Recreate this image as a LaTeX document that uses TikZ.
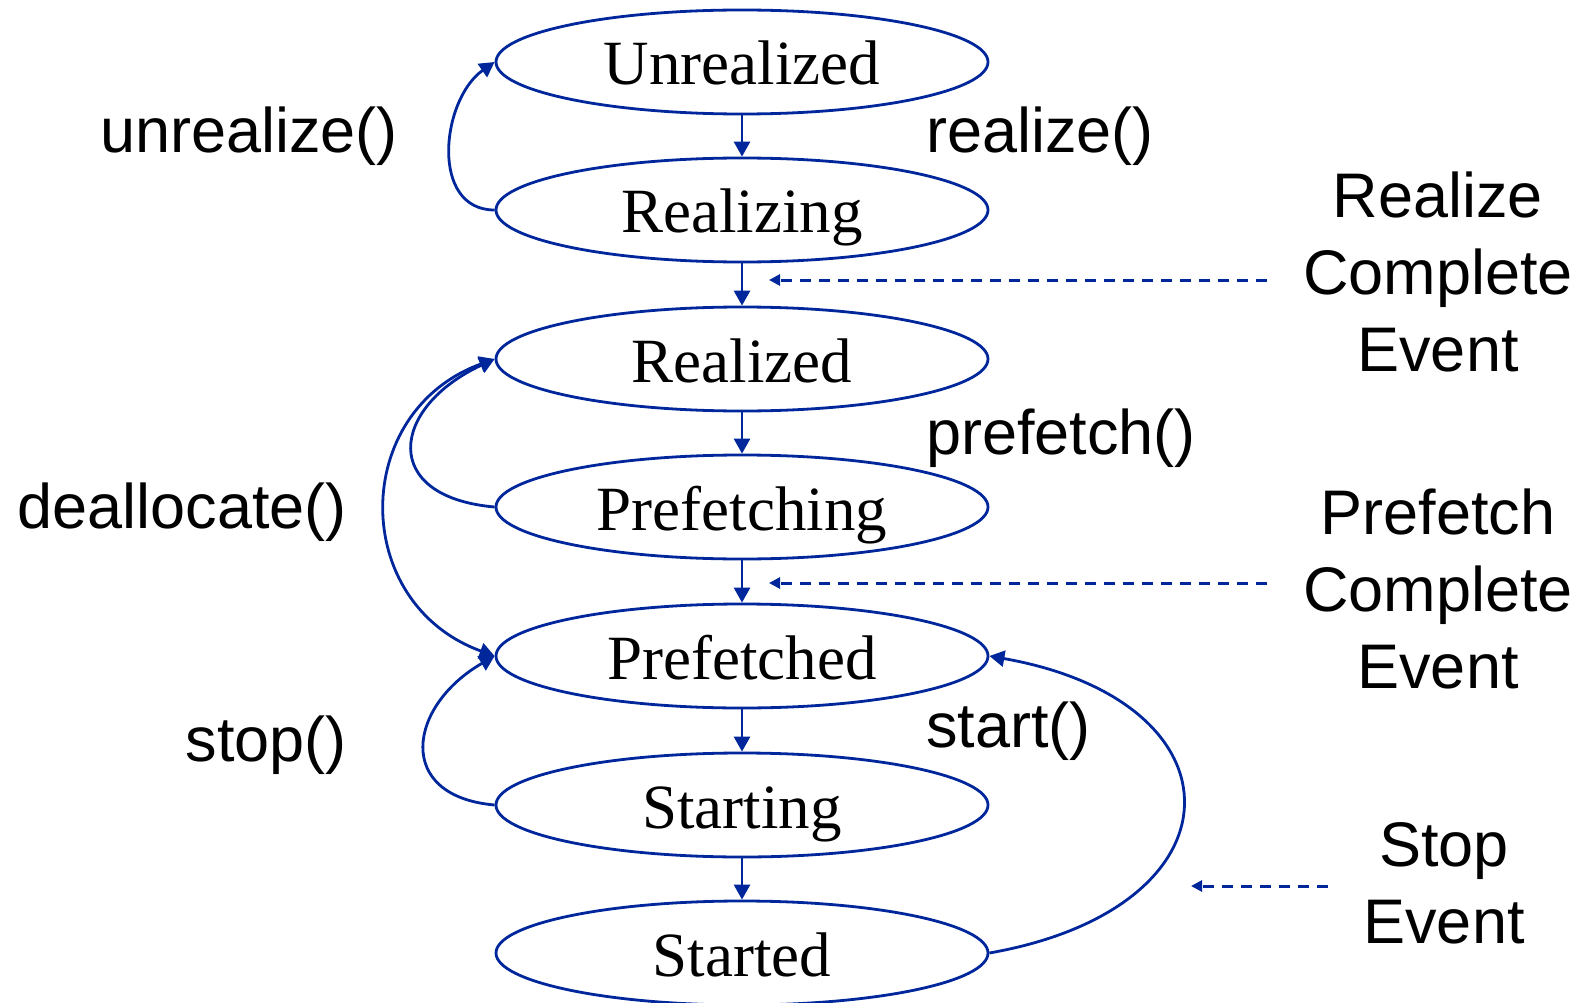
\documentclass[tikz,border=0pt]{standalone}
\usepackage{fontspec}
\setmainfont{Liberation Serif}
\setsansfont{Liberation Sans}
\usetikzlibrary{arrows.meta, shapes.geometric}
\definecolor{stateblue}{RGB}{0,38,155}

\tikzset{
  phase/.style={ellipse, draw=stateblue, line width=2.8pt, minimum width=492pt,
    minimum height=104pt, inner sep=0pt, text height=46pt, text depth=0pt,
    font=\fontsize{63}{70}\selectfont},
  call/.style={inner sep=0pt, font=\sffamily\fontsize{63}{77}\selectfont},
  event/.style={call, align=center, anchor=north},
  flow/.style={->, stateblue, line width=2.8pt},
  signal/.style={-{Triangle[length=11pt,width=11pt]}, stateblue, line width=3pt,
    dash pattern=on 11pt off 8pt}
}

\begin{document}
\begin{tikzpicture}[x=1pt, y=1pt, >={Triangle[length=15pt,width=16pt]}]
    \useasboundingbox (0,0) rectangle (1587,-1003);
    \node[phase] (unrealized) at (742,-62) {Unrealized};
    \node[phase] (realizing) at (742,-210) {Realizing};
    \node[phase] (realized) at (742,-359) {Realized};
    \node[phase] (prefetching) at (742,-507) {Prefetching};
    \node[phase] (prefetched) at (742,-656) {Prefetched};
    \node[phase] (starting) at (742,-805) {Starting};
    \node[phase] (started) at (742,-953) {Started};

    \draw[flow] (unrealized) -- (realizing);
    \draw[flow] (realizing) -- (realized);
    \draw[flow] (realized) -- (prefetching);
    \draw[flow] (prefetching) -- (prefetched);
    \draw[flow] (prefetched) -- (starting);
    \draw[flow] (starting) -- (started);

    \draw[flow] (realizing.west) to[out=180, in=215, looseness=1.13] (unrealized.west);
    \draw[flow] (prefetching.west) to[out=175, in=205, looseness=2] (realized.west);
    \draw[flow, <->] (realized.west) to[out=200, in=160, looseness=1.33] (prefetched.west);
    \draw[flow] (starting.west) to[out=175, in=210, looseness=1.73] (prefetched.west);
    \draw[flow] (started.east) to[out=10, in=-10, looseness=2.26] (prefetched.east);

    \node[call, anchor=base east] (unrealizeCall) at (398,-153) {unrealize()};
    \node[call, anchor=base west] (realizeCall) at (926,-153) {realize()};
    \node[call, anchor=base west] (prefetchCall) at (926,-454) {prefetch()};
    \node[call, anchor=base east] (deallocateCall) at (347,-528) {deallocate()};
    \node[call, anchor=base east] (stopCall) at (347,-761) {stop()};
    \node[call, anchor=base west] (startCall) at (926,-747) {start()};

    \node[event] (realizeEvent) at (1438,-172) {Realize\\Complete\\Event};
    \node[event] (prefetchEvent) at (1438,-489) {Prefetch\\Complete\\Event};
    \node[event] (stopEvent) at (1444,-822) {Stop\\Event};

    \coordinate (realizeTail) at (1267,-280);
    \coordinate (realizeTip) at (769,-280);
    \coordinate (prefetchTail) at (1267,-583);
    \coordinate (prefetchTip) at (769,-583);
    \coordinate (stopTail) at (1328,-886);
    \coordinate (stopTip) at (1191,-886);
    \draw[signal] (realizeTail) -- (realizeTip);
    \draw[signal] (prefetchTail) -- (prefetchTip);
    \draw[signal] (stopTail) -- (stopTip);
\end{tikzpicture}
\end{document}
